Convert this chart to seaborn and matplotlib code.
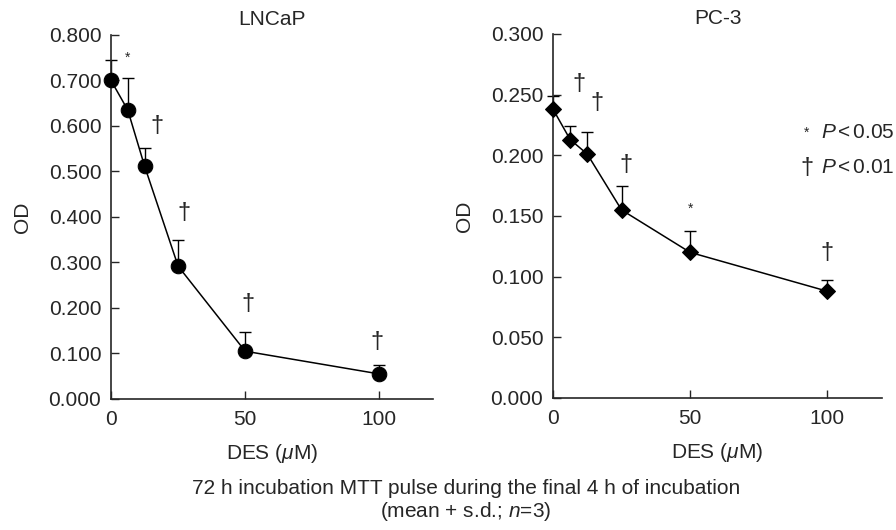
import numpy as np
import pandas as pd
import matplotlib
matplotlib.use('Agg')
import matplotlib.pyplot as plt
import seaborn as sns

# DES concentrations (uM)
des_conc = [0, 6.25, 12.5, 25, 50, 100]

# LNCaP OD, mean and s.d.
lncap_od = [0.700, 0.635, 0.512, 0.292, 0.105, 0.055]
lncap_sd = [0.046, 0.070, 0.039, 0.057, 0.042, 0.020]
lncap_sig = ['', '*', '†', '†', '†', '†']

# PC-3 OD, mean and s.d.
pc3_od = [0.238, 0.213, 0.201, 0.155, 0.120, 0.088]
pc3_sd = [0.011, 0.011, 0.018, 0.020, 0.018, 0.009]
pc3_sig = ['', '†', '†', '†', '*', '†']

sns.set_style('ticks')
plt.rcParams['font.family'] = ['Liberation Sans', 'DejaVu Sans']
plt.rcParams['mathtext.fontset'] = 'custom'
plt.rcParams['mathtext.rm'] = 'Liberation Sans'
plt.rcParams['mathtext.it'] = 'Liberation Sans:italic'

FS = 15

fig = plt.figure(figsize=(8.96, 5.3), dpi=100)
ax1 = fig.add_axes([0.1239, 0.2472, 0.3594, 0.6868])
ax2 = fig.add_axes([0.6172, 0.2491, 0.3672, 0.6868])

# offsets (pixels) of the significance marks above the error bar tops
lncap_off = [(0, 0), (0, 20), (12, 22), (6, 27), (3, 28), (-2, 23)]
pc3_off = [(0, 0), (9, 42), (10, 29), (4, 21), (0, 22), (0, 27)]


def panel(ax, od, sd, sig, off, marker, msize, title, ymax, yticks):
    df = pd.DataFrame({'conc': des_conc, 'od': od, 'sd': sd})
    eb = ax.errorbar(df['conc'], df['od'], yerr=[np.zeros(len(df)), df['sd']],
                     fmt='none', ecolor='black', elinewidth=1, capsize=4, capthick=1, zorder=2)
    for art in eb.lines[1] + eb.lines[2]:
        art.set_clip_on(False)
    sns.lineplot(data=df, x='conc', y='od', ax=ax, color='black', lw=1.1,
                 marker=marker, markersize=msize, markeredgecolor='black',
                 markerfacecolor='black', zorder=3, clip_on=False)
    for c, m, s, g, o in zip(df['conc'], df['od'], df['sd'], sig, off):
        if g == '':
            continue
        fs = 10 if g == '*' else 17
        ax.annotate(g, (c, m + s), xytext=o, textcoords='offset pixels',
                    ha='center', va='center', fontsize=fs)
    ax.set_xlim(0, 120)
    ax.set_ylim(0, ymax)
    ax.set_xticks([0, 50, 100])
    ax.set_yticks(yticks)
    ax.set_yticklabels([f'{t:.3f}' for t in yticks])
    ax.tick_params(direction='in', length=6, width=1, labelsize=FS)
    ax.tick_params(axis='y', pad=7)
    ax.tick_params(axis='x', pad=8)
    for sp in ['top', 'right']:
        ax.spines[sp].set_visible(False)
    for sp in ['left', 'bottom']:
        ax.spines[sp].set_linewidth(1.2)
    ax.set_title(title, fontsize=FS, pad=7)
    ax.set_xlabel('DES ($\\mu$M)', fontsize=FS, labelpad=9)
    ax.set_ylabel('OD', fontsize=FS, labelpad=12)


panel(ax1, lncap_od, lncap_sd, lncap_sig, lncap_off, 'o', 10.5, 'LNCaP', 0.8,
      [0, 0.1, 0.2, 0.3, 0.4, 0.5, 0.6, 0.7, 0.8])
panel(ax2, pc3_od, pc3_sd, pc3_sig, pc3_off, 'D', 8.5, 'PC-3', 0.3,
      [0, 0.05, 0.1, 0.15, 0.2, 0.25, 0.3])

# significance key
ax2.text(0.772, 0.729, '*', transform=ax2.transAxes, fontsize=10, ha='center', va='center')
ax2.text(0.815, 0.729, '$\\mathit{P}\\,$<$\\,$0.05', transform=ax2.transAxes, fontsize=FS, va='center')
ax2.text(0.772, 0.633, '†', transform=ax2.transAxes, fontsize=17, ha='center', va='center')
ax2.text(0.815, 0.633, '$\\mathit{P}\\,$<$\\,$0.01', transform=ax2.transAxes, fontsize=FS, va='center')

fig.text(0.52, 0.0774, '72 h incubation MTT pulse during the final 4 h of incubation',
         ha='center', va='center', fontsize=FS)
fig.text(0.52, 0.034, '(mean + s.d.; $\\mathit{n}$=3)', ha='center', va='center', fontsize=FS)

fig.savefig('out.png', dpi=100)
